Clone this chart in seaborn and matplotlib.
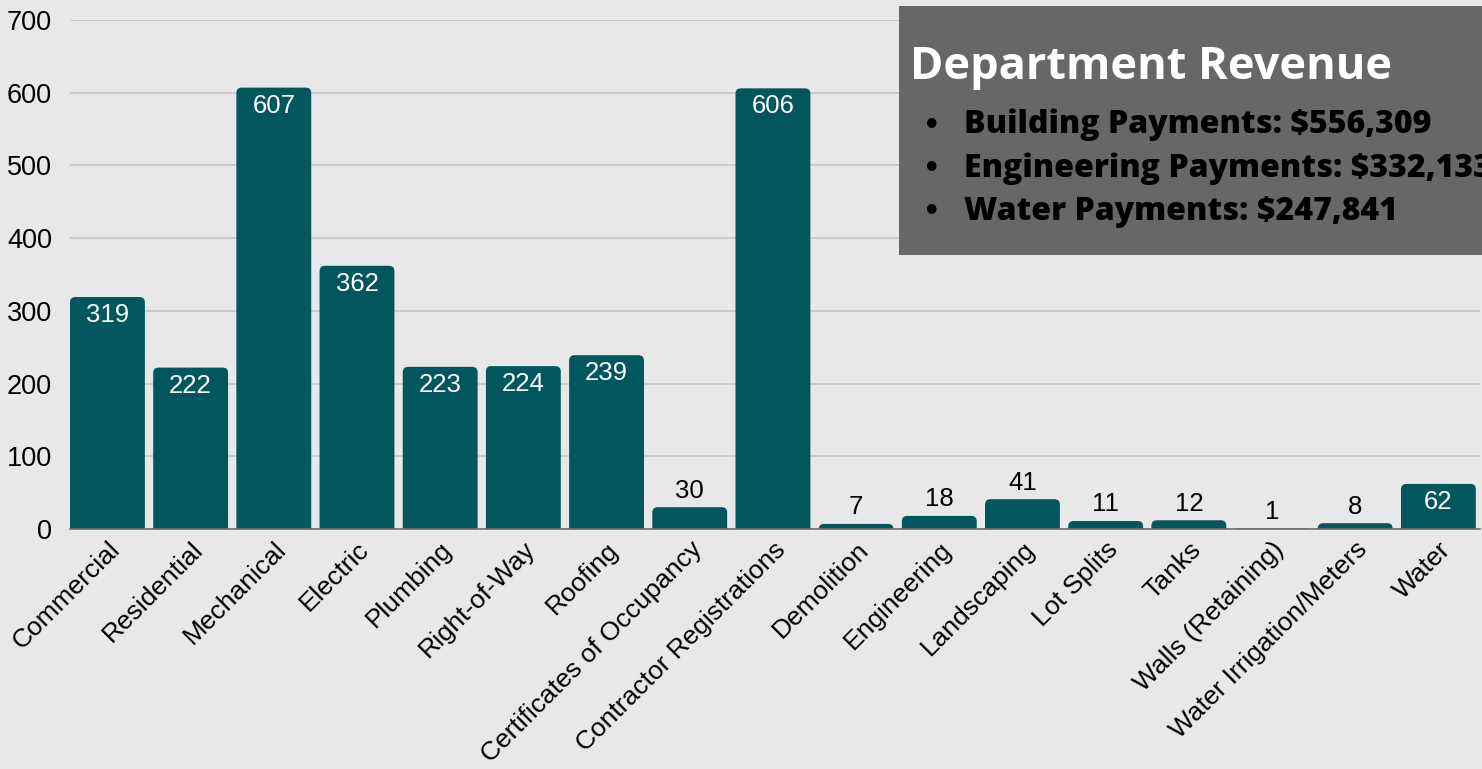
import matplotlib
matplotlib.use("Agg")
import matplotlib.pyplot as plt
import seaborn as sns
import pandas as pd
from matplotlib.patches import Rectangle, FancyBboxPatch

# --- Data ---
categories = [
    "Commercial", "Residential", "Mechanical", "Electric", "Plumbing",
    "Right-of-Way", "Roofing", "Certificates of Occupancy",
    "Contractor Registrations", "Demolition", "Engineering", "Landscaping",
    "Lot Splits", "Tanks", "Walls (Retaining)", "Water Irrigation/Meters", "Water",
]
counts = [319, 222, 607, 362, 223, 224, 239, 30, 606, 7, 18, 41, 11, 12, 1, 8, 62]

box_title = "Department Revenue"
revenue_items = [
    "Building Payments: $556,309",
    "Engineering Payments: $332,133",
    "Water Payments: $247,841",
]

BAR_COLOR = "#02565e"
BG_COLOR = "#e8e8e8"
BOX_COLOR = "#666769"

df = pd.DataFrame({"category": categories, "count": counts})

# --- Plot ---
sns.set_theme(style="whitegrid")
plt.rcParams["font.family"] = ["Liberation Sans", "DejaVu Sans"]

W, H = 1482, 769
fig = plt.figure(figsize=(W / 100, H / 100), dpi=100, facecolor=BG_COLOR)
ax = fig.add_axes([70 / W, 1 - 529 / H, (1480 - 70) / W, (529 - 20) / H])
ax.set_facecolor(BG_COLOR)

sns.barplot(data=df, x="category", y="count", color=BAR_COLOR, saturation=1,
            width=0.9, linewidth=0, ax=ax, zorder=3)

ax.set_ylim(0, 700)
ax.set_yticks(range(0, 701, 100))
ax.set_xlim(-0.45, len(categories) - 0.5)

# swap the plain bars for ones with slightly rounded tops
# (bottom is pushed below zero so only the top corners show)
px_x = (1480 - 70) / (len(categories) - 0.05)
px_y = (529 - 20) / 700
for p in list(ax.patches):
    x0, w, h = p.get_x(), p.get_width(), p.get_height()
    p.remove()
    ax.add_patch(FancyBboxPatch((x0, -20), w, h + 20,
                                boxstyle="round,pad=0,rounding_size=0.065",
                                mutation_aspect=px_x / px_y,
                                facecolor=BAR_COLOR, edgecolor="none", zorder=3))

ax.set_xlabel("")
ax.set_ylabel("")
ax.grid(axis="y", color="#c4c4c4", linewidth=1.2, zorder=0)
ax.grid(axis="x", visible=False)
for side in ["top", "right", "left"]:
    ax.spines[side].set_visible(False)
ax.spines["bottom"].set_color("#6e6e6e")
ax.spines["bottom"].set_linewidth(1.2)
ax.spines["bottom"].set_zorder(4)

ax.tick_params(axis="y", length=0, pad=13, labelsize=19.5, labelcolor="black")
ax.tick_params(axis="x", length=0, pad=6, labelsize=19, labelcolor="black")
plt.setp(ax.get_xticklabels(), rotation=45, ha="right", rotation_mode="anchor")

# value labels: inside the tall bars, above the short ones
for i, v in enumerate(counts):
    if v > 50:
        ax.annotate(str(v), (i, v), xytext=(0, -13), textcoords="offset points",
                    ha="center", va="center", color="white", fontsize=18.5, zorder=5)
    else:
        ax.annotate(str(v), (i, v), xytext=(0, 12), textcoords="offset points",
                    ha="center", va="center", color="black", fontsize=18.5, zorder=5)

# --- Revenue box (runs off the right edge, as in the original) ---
fig.patches.append(Rectangle((899 / W, 1 - 255 / H), 0.5, (255 - 6) / H,
                             transform=fig.transFigure, facecolor=BOX_COLOR,
                             edgecolor="none", zorder=10))
fig.text(910 / W, 1 - 67 / H, box_title, family=["Open Sans", "DejaVu Sans"],
         fontweight="bold", fontsize=32.5, color="white", va="center", ha="left", zorder=11)
for k, item in enumerate(revenue_items):
    yc = 1 - (125 + 43.5 * k) / H
    fig.text(932 / W, yc, "\u2022", fontsize=24, color="black", va="center",
             ha="center", fontweight="bold", zorder=11)
    fig.text(964 / W, yc, item, family=["Open Sans", "DejaVu Sans"],
             fontweight="heavy", fontsize=23, color="black", va="center",
             ha="left", zorder=11)

fig.savefig("out.png", dpi=100, facecolor=BG_COLOR)
